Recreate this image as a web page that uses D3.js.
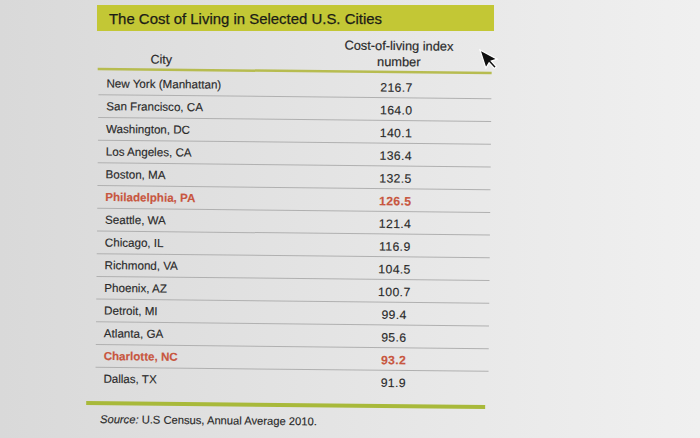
<!DOCTYPE html>
<html><head><meta charset="utf-8">
<script src="https://cdn.jsdelivr.net/npm/d3@7"></script>
<style>html,body{margin:0;padding:0;background:#e6e6e6;}svg{display:block;}</style>
</head><body>
<svg id="c" width="700" height="438"></svg>
<script>
const title = "The Cost of Living in Selected U.S. Cities";
const headerCity = "City";
const headerValue = ["Cost-of-living index", "number"];
const cities = ["New York (Manhattan)","San Francisco, CA","Washington, DC","Los Angeles, CA","Boston, MA","Philadelphia, PA","Seattle, WA","Chicago, IL","Richmond, VA","Phoenix, AZ","Detroit, MI","Atlanta, GA","Charlotte, NC","Dallas, TX"];
const values = [216.7,164.0,140.1,136.4,132.5,126.5,121.4,116.9,104.5,100.7,99.4,95.6,93.2,91.9];
const highlighted = ["Philadelphia, PA","Charlotte, NC"];
const sourceLabel = "Source:";
const sourceText = " U.S Census, Annual Average 2010.";

const svg = d3.select("#c");
const defs = svg.append("defs");
const g0 = defs.append("linearGradient").attr("id","bg").attr("x1","0").attr("x2","1").attr("y1","0").attr("y2","0");
g0.append("stop").attr("offset","0").attr("stop-color","#d9d9d9");
g0.append("stop").attr("offset","0.6").attr("stop-color","#e7e7e7");
g0.append("stop").attr("offset","1").attr("stop-color","#f0f0f0");
svg.append("rect").attr("width",700).attr("height",438).attr("fill","url(#bg)");

const font = "'Liberation Sans', Arial, sans-serif";
const ink = "#2a2a2a";
const red = "#c8563f";

// title bar (kept level like the photo)
svg.append("rect").attr("x",97).attr("y",5).attr("width",397).attr("height",26).attr("fill","#c3c735");
svg.append("text").attr("x",109).attr("y",24).attr("font-family",font).attr("font-size",15)
  .attr("fill","#1c1c16").attr("stroke","#1c1c16").attr("stroke-width",0.25)
  .attr("textLength",273).attr("lengthAdjust","spacingAndGlyphs").text(title);

const root = svg.append("g").attr("transform","rotate(0.6 290 230)");

// header
const valX = 395;
root.append("text").attr("x",159.5).attr("y",65).attr("text-anchor","middle").attr("font-family",font)
  .attr("font-size",12.5).attr("fill",ink).attr("stroke",ink).attr("stroke-width",0.2).text(headerCity);
root.selectAll("text.hv").data(headerValue).join("text").attr("class","hv")
  .attr("x",valX+2).attr("y",(d,i)=>49+i*16).attr("text-anchor","middle").attr("font-family",font)
  .attr("font-size",12.8).attr("fill",ink).attr("stroke",ink).attr("stroke-width",0.2).text(d=>d);
root.append("line").attr("x1",96).attr("x2",490).attr("y1",71).attr("y2",71)
  .attr("stroke","#b7bc50").attr("stroke-width",2.5);

// rows
const y = d3.scaleBand().domain(cities).range([74, 392]);
const rows = root.selectAll("g.row").data(cities.map((c,i)=>({city:c, value:values[i]}))).join("g")
  .attr("class","row").attr("transform",d=>`translate(0,${y(d.city)})`);
rows.filter((d,i)=>i>0).append("line").attr("x1",97).attr("x2",490).attr("y1",0).attr("y2",0)
  .attr("stroke","#b0b0b0").attr("stroke-width",1);
const col = d=>highlighted.includes(d.city)?red:ink;
rows.append("text").attr("x",105).attr("y",y.bandwidth()/2).attr("dy","0.35em")
  .attr("font-family",font).attr("font-size",11.6)
  .attr("font-weight",d=>highlighted.includes(d.city)?"bold":"normal")
  .attr("fill",col).attr("stroke",col).attr("stroke-width",0.15).text(d=>d.city);
rows.append("text").attr("x",valX).attr("y",y.bandwidth()/2+1).attr("dy","0.35em").attr("text-anchor","middle")
  .attr("font-family",font).attr("font-size",12.2).attr("letter-spacing",0.4)
  .attr("font-weight",d=>highlighted.includes(d.city)?"bold":"normal")
  .attr("fill",col).attr("stroke",col).attr("stroke-width",0.15).text(d=>d3.format(".1f")(d.value));

// bottom rule
root.append("line").attr("x1",88).attr("x2",487).attr("y1",405).attr("y2",405)
  .attr("stroke","#a8b93a").attr("stroke-width",4);
const src = root.append("text").attr("x",102).attr("y",425).attr("font-family",font).attr("font-size",11.2)
  .attr("fill",ink).attr("stroke",ink).attr("stroke-width",0.15);
src.append("tspan").attr("font-style","italic").text(sourceLabel);
src.append("tspan").text(sourceText);

// mouse cursor from the screenshot
svg.append("path").attr("transform","translate(480,50) rotate(-18)")
  .attr("d","M0,0 L0,19 L4.7,15 L8,22 L10.5,21 L7.3,14 L13.5,14 Z")
  .attr("fill","#111").attr("stroke","#fff").attr("stroke-width",1.2);
</script>
</body></html>
